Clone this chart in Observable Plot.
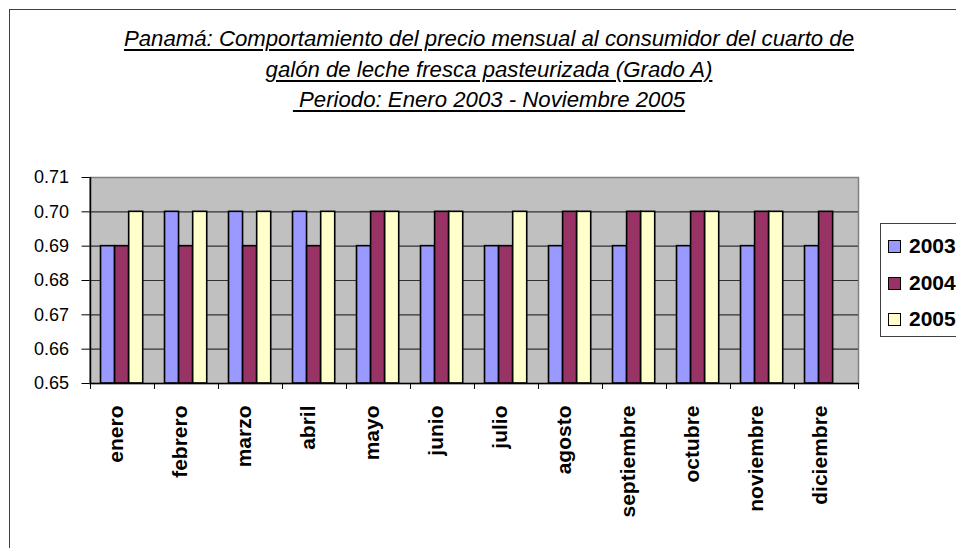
<!DOCTYPE html>
<html><head><meta charset="utf-8">
<script src="https://cdn.jsdelivr.net/npm/d3@7"></script>
<script src="https://cdn.jsdelivr.net/npm/@observablehq/plot@0.6"></script>
<style>
body{margin:0;background:#fff;}
#wrap{position:relative;width:956px;height:548px;overflow:hidden;font-family:"Liberation Sans",Arial,sans-serif;background:#fff;}
#frame{position:absolute;left:9px;top:9px;width:1100px;height:700px;border:1.5px solid #404040;box-sizing:border-box;}
#chart{position:absolute;left:0;top:0;}
#title{position:absolute;left:0;top:24px;width:978px;text-align:center;font-style:italic;font-size:22.2px;line-height:30.5px;color:#000;}
#title span{text-decoration:underline;text-decoration-thickness:2px;text-underline-offset:3px;white-space:pre;}
#legend{position:absolute;left:880px;top:223px;width:120px;height:114px;border:1px solid #404040;background:#fff;box-sizing:border-box;}
.item{position:absolute;left:7px;height:22px;font-weight:bold;font-size:21px;line-height:22px;}
.sw{position:absolute;left:0;top:5px;width:11px;height:11px;border:1.5px solid #000;}
.lab{position:absolute;left:21px;top:0;}
</style></head>
<body>
<div id="wrap">
  <div id="frame"></div>
  <div id="chart"></div>
  <div id="title"></div>
  <div id="legend"></div>
</div>
<script>
const titleLines = [
  "Panamá: Comportamiento del precio mensual al consumidor del cuarto de",
  "galón de leche fresca pasteurizada (Grado A)",
  " Periodo: Enero 2003 - Noviembre 2005"
];
const months = ["enero","febrero","marzo","abril","mayo","junio","julio","agosto","septiembre","octubre","noviembre","diciembre"];
const years = ["2003","2004","2005"];
const v2003 = [0.69,0.70,0.70,0.70,0.69,0.69,0.69,0.69,0.69,0.69,0.69,0.69];
const v2004 = [0.69,0.69,0.69,0.69,0.70,0.70,0.69,0.70,0.70,0.70,0.70,0.70];
const v2005 = [0.70,0.70,0.70,0.70,0.70,0.70,0.70,0.70,0.70,0.70,0.70,null];
const colors = ["#9999FF","#993366","#FFFFCC"];
const yTicks = [0.65,0.66,0.67,0.68,0.69,0.70,0.71];

const series = [v2003, v2004, v2005];
const W = 956, H = 548, mL = 89.5, mR = 98, mT = 177, mB = 165;
const step = (W - mL - mR) / months.length;
const barW = step * 0.22;
const gStart = step * 0.164;

const barMarks = series.map((vals, i) => {
  const data = months.map((m, j) => ({month: m, value: vals[j]})).filter(d => d.value != null);
  return Plot.barY(data, {
    x: "month", y1: yTicks[0], y2: "value",
    fill: colors[i], stroke: "#000", strokeWidth: 1.6,
    insetLeft: gStart + i * barW,
    insetRight: step - gStart - (i + 1) * barW
  });
});

const chart = Plot.plot({
  width: W, height: H,
  marginLeft: mL, marginRight: mR, marginTop: mT, marginBottom: mB,
  style: {fontFamily: "Liberation Sans, Arial, sans-serif", fontSize: "18px", color: "#000", background: "transparent", overflow: "visible"},
  x: {domain: months, padding: 0, label: null},
  y: {domain: [yTicks[0], yTicks[yTicks.length - 1]], label: null},
  marks: [
    Plot.frame({fill: "#C0C0C0", stroke: "#808080", strokeWidth: 1.5}),
    Plot.ruleY(yTicks.slice(1, -1), {stroke: "#333", strokeWidth: 1.2}),
    ...barMarks,
    Plot.ruleY([yTicks[0]], {stroke: "#000", strokeWidth: 1.5}),
    Plot.ruleX([months[0]], {dx: -step / 2, y1: yTicks[0], y2: yTicks[yTicks.length - 1], stroke: "#000", strokeWidth: 1.5}),
    Plot.axisY(yTicks, {tickSize: 8, tickPadding: 13, tickFormat: d3.format(".2f"), fontSize: 18, label: null}),
    Plot.axisX({tickSize: 6, tickFormat: () => "", dx: -step / 2, label: null}),
    Plot.axisX([months[months.length - 1]], {tickSize: 6, tickFormat: () => "", dx: step / 2, label: null}),
    Plot.text(months, {x: d => d, frameAnchor: "bottom", rotate: -90, textAnchor: "end", dy: 22, fontWeight: "bold", fontSize: 21, fill: "#000"})
  ]
});
document.getElementById("chart").appendChild(chart);

const t = document.getElementById("title");
titleLines.forEach(s => {
  const d = document.createElement("div");
  const sp = document.createElement("span");
  sp.textContent = s;
  d.appendChild(sp);
  t.appendChild(d);
});

const lg = document.getElementById("legend");
years.forEach((y, i) => {
  const it = document.createElement("div");
  it.className = "item";
  it.style.top = (11 + i * 36.5) + "px";
  it.innerHTML = `<div class="sw" style="background:${colors[i]}"></div><div class="lab">${y}</div>`;
  lg.appendChild(it);
});
</script>
</body></html>
